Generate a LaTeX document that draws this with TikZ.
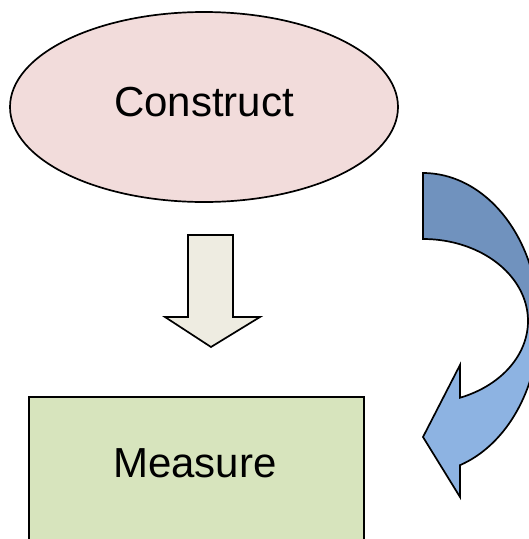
\documentclass[tikz,border=0pt]{standalone}
\usepackage{fontspec}
\setmainfont{Liberation Sans}
\usetikzlibrary{shapes.geometric}
\definecolor{pinkfill}{HTML}{F2DCDB}
\definecolor{greenfill}{HTML}{D7E4BD}
\definecolor{beigefill}{HTML}{EEECE1}
\definecolor{bluedark}{HTML}{7092BE}
\definecolor{bluelight}{HTML}{8DB3E2}
\tikzset{
  outline/.style={draw=black, line width=1.7pt, line join=miter},
  lbl/.style={font=\fontsize{42}{50}\selectfont, inner sep=0pt, text=black},
}
\newcommand{\curvedarrowpath}{(423,173) -- plot[domain=90:-71.4,samples=90,variable=\t] ({423+116*cos(\t)},{323-150*sin(\t)}) -- (460,497) -- (423,437) -- (460,365) -- plot[domain=-69.4:90,samples=90,variable=\t] ({423+105*cos(\t)},{321-82*sin(\t)}) -- cycle}
\begin{document}
\begin{tikzpicture}[x=1pt,y=-1pt]
\useasboundingbox (0,0) rectangle (529,539);
\clip (0,0) rectangle (529,539);
\fill[white] (0,0) rectangle (529,539);
% Construct ellipse
\node[ellipse, outline, fill=pinkfill, minimum width=388pt, minimum height=190pt, inner sep=0pt] (construct) at (204,107) {};
\node[lbl] (constructtext) at (204,102) {Construct};
% Down block arrow
\path[outline, fill=beigefill] (188,235) -- (233,235) -- (233,317) -- (260,317) -- (211,347) -- (165,317) -- (188,317) -- cycle;
% Measure box
\node[rectangle, outline, fill=greenfill, minimum width=335pt, minimum height=180pt, anchor=north west, inner sep=0pt] (measure) at (28,396) {};
\node[lbl] (measuretext) at (195,463) {Measure};
% Curved arrow
\begin{scope}
\clip (0,0) rectangle (529,322);
\fill[bluedark] \curvedarrowpath;
\end{scope}
\begin{scope}
\clip (0,322) rectangle (529,539);
\fill[bluelight] \curvedarrowpath;
\end{scope}
\draw[outline] \curvedarrowpath;
\end{tikzpicture}
\end{document}
